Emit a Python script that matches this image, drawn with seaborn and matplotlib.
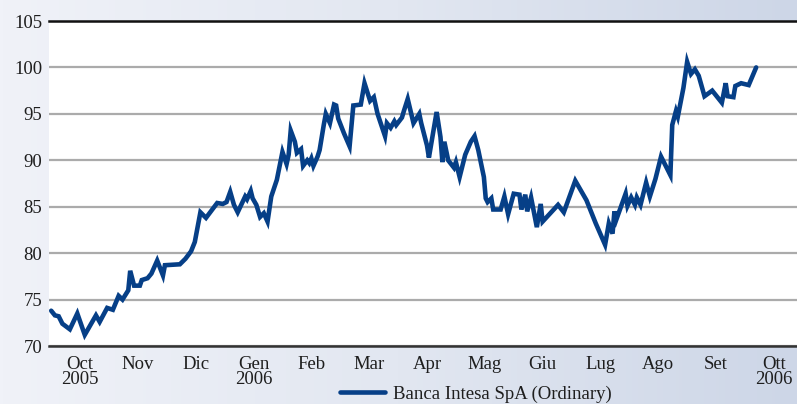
import numpy as np
import pandas as pd
import matplotlib
matplotlib.use("Agg")
import matplotlib.pyplot as plt
import seaborn as sns
from matplotlib.colors import LinearSegmentedColormap

# Closing prices, Oct 2005 - Oct 2006
dates = [
    "2005-10-01", "2005-10-03", "2005-10-05", "2005-10-07", "2005-10-11", "2005-10-15",
    "2005-10-19", "2005-10-25", "2005-10-27", "2005-10-31", "2005-11-03", "2005-11-06",
    "2005-11-08", "2005-11-11", "2005-11-12", "2005-11-14", "2005-11-17", "2005-11-18",
    "2005-11-21", "2005-11-23", "2005-11-26", "2005-11-29", "2005-11-30", "2005-12-08",
    "2005-12-11", "2005-12-14", "2005-12-16", "2005-12-19", "2005-12-22", "2005-12-28",
    "2005-12-31", "2006-01-02", "2006-01-04", "2006-01-06", "2006-01-08", "2006-01-12",
    "2006-01-13", "2006-01-15", "2006-01-16", "2006-01-18", "2006-01-20", "2006-01-22",
    "2006-01-24", "2006-01-26", "2006-01-29", "2006-02-01", "2006-02-03", "2006-02-04",
    "2006-02-05", "2006-02-07", "2006-02-08", "2006-02-10", "2006-02-11", "2006-02-13",
    "2006-02-14", "2006-02-15", "2006-02-16", "2006-02-18", "2006-02-19", "2006-02-21",
    "2006-02-22", "2006-02-24", "2006-02-26", "2006-02-27", "2006-02-28", "2006-03-03",
    "2006-03-06", "2006-03-08", "2006-03-12", "2006-03-14", "2006-03-17", "2006-03-19",
    "2006-03-21", "2006-03-25", "2006-03-26", "2006-03-28", "2006-03-30", "2006-03-31",
    "2006-04-03", "2006-04-04", "2006-04-06", "2006-04-09", "2006-04-12", "2006-04-13",
    "2006-04-16", "2006-04-17", "2006-04-21", "2006-04-23", "2006-04-24", "2006-04-25",
    "2006-04-27", "2006-04-30", "2006-05-01", "2006-05-03", "2006-05-06", "2006-05-09",
    "2006-05-11", "2006-05-13", "2006-05-16", "2006-05-17", "2006-05-18", "2006-05-20",
    "2006-05-21", "2006-05-25", "2006-05-27", "2006-05-29", "2006-06-01", "2006-06-04",
    "2006-06-05", "2006-06-07", "2006-06-08", "2006-06-10", "2006-06-13", "2006-06-15",
    "2006-06-16", "2006-06-24", "2006-06-27", "2006-07-03", "2006-07-09", "2006-07-14",
    "2006-07-19", "2006-07-21", "2006-07-23", "2006-07-24", "2006-07-25", "2006-07-30",
    "2006-07-31", "2006-08-02", "2006-08-04", "2006-08-05", "2006-08-07", "2006-08-10",
    "2006-08-12", "2006-08-15", "2006-08-18", "2006-08-20", "2006-08-23", "2006-08-24",
    "2006-08-26", "2006-08-27", "2006-08-30", "2006-09-01", "2006-09-03", "2006-09-05",
    "2006-09-07", "2006-09-10", "2006-09-14", "2006-09-19", "2006-09-21", "2006-09-22",
    "2006-09-25", "2006-09-26", "2006-09-29", "2006-10-03", "2006-10-07",
]
prices = [
    73.8, 73.3, 73.2, 72.4, 71.8, 73.5,
    71.2, 73.3, 72.6, 74.1, 73.9, 75.4,
    75.0, 76.0, 78.1, 76.5, 76.5, 77.1,
    77.3, 77.8, 79.2, 77.6, 78.7, 78.8,
    79.4, 80.2, 81.2, 84.4, 83.8, 85.4,
    85.3, 85.5, 86.6, 85.2, 84.4, 86.1,
    85.8, 86.7, 85.9, 85.2, 83.9, 84.3,
    83.4, 86.1, 87.9, 90.9, 89.6, 90.6,
    93.2, 92.0, 90.8, 91.2, 89.4, 90.0,
    89.7, 90.2, 89.4, 90.4, 91.1, 93.8,
    95.0, 94.0, 96.0, 95.9, 94.5, 92.9,
    91.5, 95.9, 96.0, 98.3, 96.4, 96.8,
    95.0, 92.6, 94.0, 93.5, 94.2, 93.8,
    94.6, 95.3, 96.6, 94.0, 95.0, 94.0,
    91.6, 90.3, 95.2, 92.5, 89.8, 92.0,
    90.0, 89.2, 89.8, 88.2, 90.6, 92.0,
    92.6, 91.1, 88.2, 85.9, 85.5, 85.9,
    84.7, 84.7, 86.1, 84.2, 86.4, 86.3,
    84.7, 86.3, 84.5, 86.0, 82.8, 85.3,
    83.4, 85.2, 84.4, 87.8, 85.7, 83.2,
    80.9, 83.2, 82.1, 84.5, 83.6, 86.4,
    85.1, 86.0, 85.2, 86.0, 85.2, 87.6,
    86.1, 88.0, 90.4, 89.6, 88.4, 93.8,
    95.3, 94.7, 97.8, 100.6, 99.3, 99.8,
    99.1, 96.9, 97.5, 96.2, 98.3, 96.9,
    96.8, 98.0, 98.3, 98.1, 100.0,
]
series_name = "Banca Intesa SpA (Ordinary)"
month_labels = ["Oct\n2005", "Nov", "Dic", "Gen\n2006", "Feb", "Mar", "Apr",
                "Mag", "Giu", "Lug", "Ago", "Set", "Ott\n2006"]
y_ticks = [70, 75, 80, 85, 90, 95, 100, 105]

sns.set_theme(style="white")
plt.rcParams["font.family"] = ["Liberation Serif", "DejaVu Serif"]
FS = 13.5
TEXT_COLOR = "#1e1e1e"
LINE_COLOR = "#063f87"

# every month gets the same width on the x axis
d = pd.to_datetime(pd.Series(dates))
month_pos = ((d.dt.year - 2005) * 12 + (d.dt.month - 10)
             + (d.dt.day - 1) / d.dt.days_in_month)
df = pd.DataFrame({"pos": month_pos, "price": prices})

W, H = 797, 404
fig = plt.figure(figsize=(W / 100, H / 100), dpi=100)

# soft horizontal gradient behind everything
bg = fig.add_axes([0, 0, 1, 1], zorder=0)
grad = np.linspace(0, 1, 256).reshape(1, -1)
cmap = LinearSegmentedColormap.from_list("bg", ["#f0f2f8", "#e2e7f1", "#cdd6e7"])
bg.imshow(grad, aspect="auto", cmap=cmap, extent=[0, 1, 0, 1])
bg.axis("off")

left, right, top, bottom = 49, W, 21, 346
ax = fig.add_axes([left / W, 1 - bottom / H, (right - left) / W, (bottom - top) / H], zorder=1)
ax.set_facecolor("white")

sns.lineplot(data=df, x="pos", y="price", ax=ax, color=LINE_COLOR,
             linewidth=3.3, legend=False)
line = ax.get_lines()[0]
line.set_solid_joinstyle("miter")

ax.set_xlim(-0.038, 12.9)
ax.set_ylim(70, 105)
ax.set_xlabel("")
ax.set_ylabel("")

ax.set_yticks(y_ticks)
ax.set_yticklabels([str(v) for v in y_ticks], fontsize=FS, color=TEXT_COLOR)
ax.tick_params(axis="y", length=0, pad=5)
ax.yaxis.grid(True, color="#ababab", linewidth=1.6)
ax.xaxis.grid(False)
ax.set_axisbelow(True)

# month boundaries as ticks, names centred between them
ax.set_xticks(np.arange(1, 13))
ax.set_xticklabels([])
ax.set_xticks(np.arange(13) + 0.5, minor=True)
ax.set_xticklabels(month_labels, minor=True, fontsize=FS, color=TEXT_COLOR,
                   linespacing=0.85)
ax.tick_params(axis="x", which="major", direction="out", length=4,
               width=1.3, color="#333333")
ax.tick_params(axis="x", which="minor", length=0, pad=7)

for side in ("left", "right"):
    ax.spines[side].set_visible(False)
ax.spines["top"].set_color("#111111")
ax.spines["top"].set_linewidth(1.8)
ax.spines["bottom"].set_color("#333333")
ax.spines["bottom"].set_linewidth(1.8)

fig.legend(handles=[line], labels=[series_name], loc="center left",
           bbox_to_anchor=(340 / W, 1 - 394 / H), bbox_transform=fig.transFigure,
           frameon=False, fontsize=FS, handlelength=2.4, handletextpad=0.42,
           borderpad=0, borderaxespad=0, labelcolor=TEXT_COLOR)

fig.savefig("out.png", dpi=100)
